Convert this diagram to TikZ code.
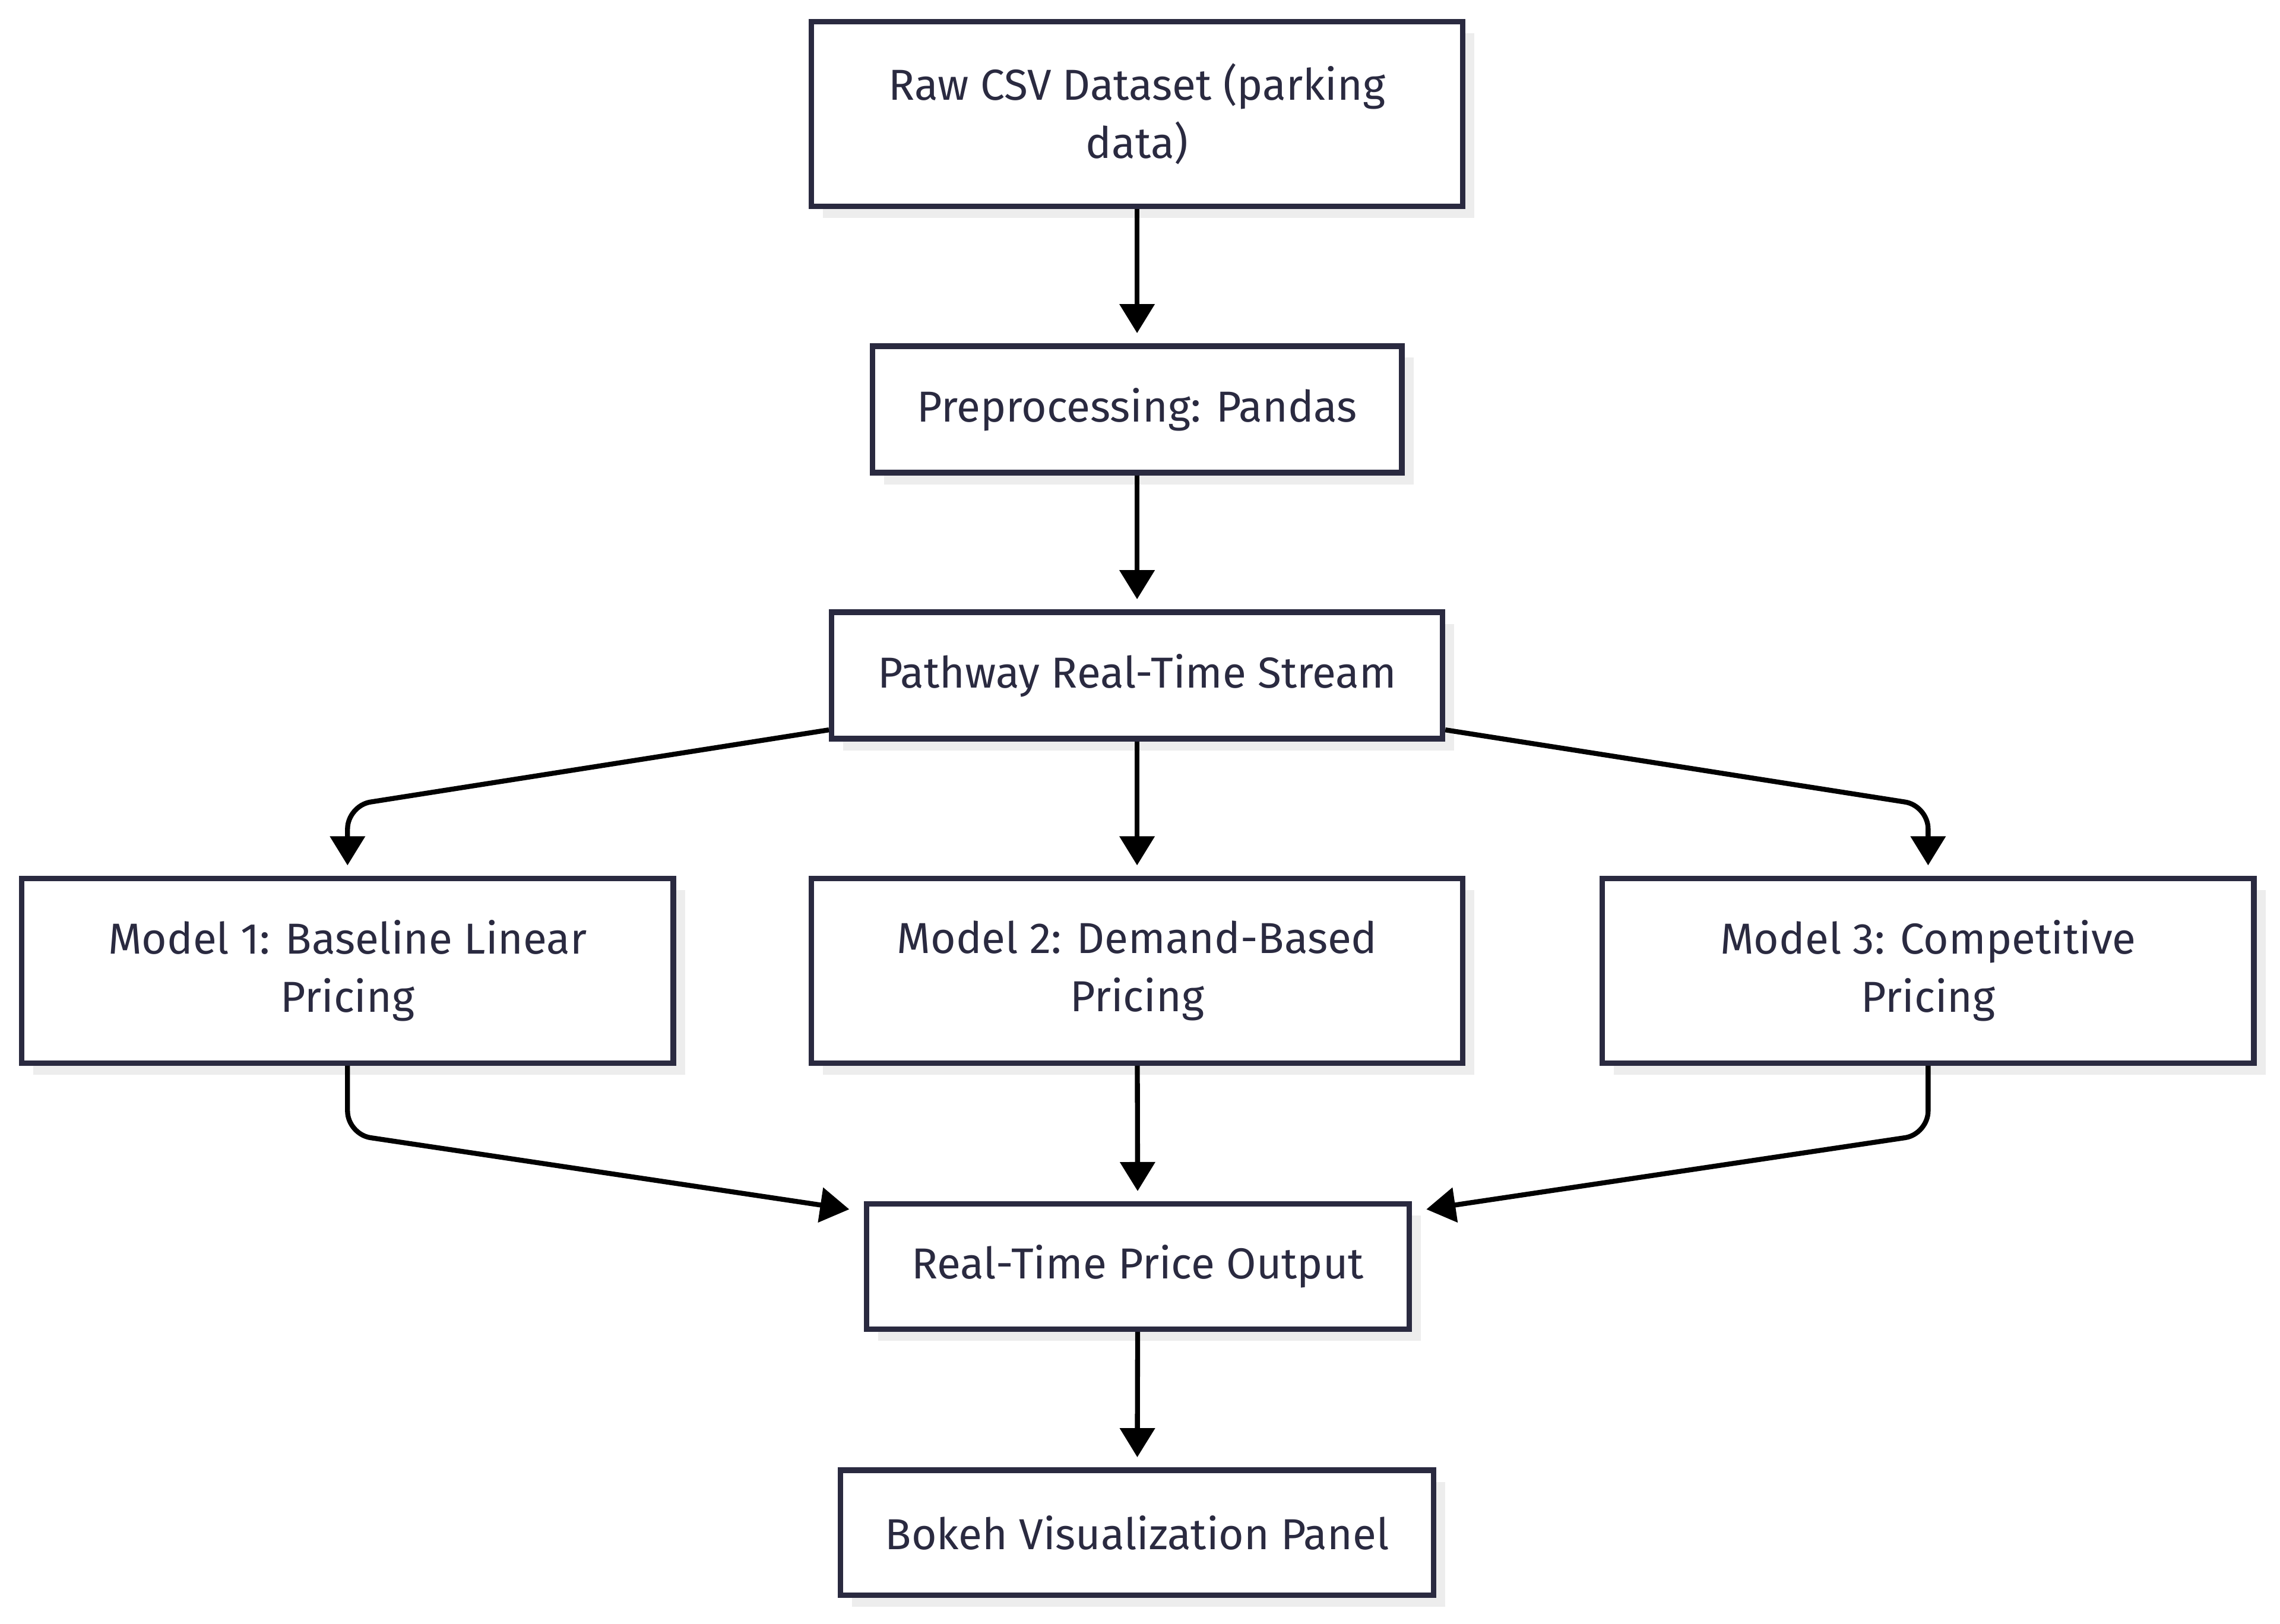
\documentclass[tikz,border=0pt]{standalone}
\usepackage{fontspec}
\setmainfont{Fira Sans}
\usetikzlibrary{arrows.meta,shadows}
\definecolor{ink}{HTML}{2A2A40}
\tikzset{box/.style={draw=ink,line width=0.095cm,fill=white,text=ink,align=center,
    font=\fontsize{21.2}{28.5}\selectfont,inner sep=0pt,
    drop shadow={shadow xshift=0.2cm,shadow yshift=-0.2cm,fill=black!7,opacity=1}},
  link/.style={line width=0.085cm,black,-{Triangle[length=0.5cm,width=0.59cm]},shorten >=0.175cm},
  elbow/.style={link,rounded corners=0.4cm}}

\begin{document}
\begin{tikzpicture}[x=0.025cm,y=-0.025cm]
        \useasboundingbox (0,0) rectangle (1568,1116.4);
        \node[box,minimum width=11.2cm,minimum height=3.175cm] (raw) at (782,78.5) {Raw CSV Dataset (parking\\data)};
        \node[box,minimum width=9.1cm,minimum height=2.175cm] (pre) at (782,281.5) {Preprocessing: Pandas};
        \node[box,minimum width=10.5cm,minimum height=2.175cm] (path) at (782,464.5) {Pathway Real-Time Stream};
        \node[box,minimum width=11.2cm,minimum height=3.175cm] (m1) at (239,667.5) {Model 1: Baseline Linear\\Pricing};
        \node[box,minimum width=11.2cm,minimum height=3.175cm] (m2) at (782,667.5) {Model 2: Demand-Based\\Pricing};
        \node[box,minimum width=11.2cm,minimum height=3.175cm] (m3) at (1326,667.5) {Model 3: Competitive\\Pricing};
        \node[box,minimum width=9.33cm,minimum height=2.15cm] (out) at (782.5,871) {Real-Time Price Output};
        \node[box,minimum width=10.2cm,minimum height=2.15cm] (bokeh) at (782,1054) {Bokeh Visualization Panel};
        \draw[link] (raw) -- (pre);
        \draw[link] (pre) -- (path);
        \draw[link] (path) -- (m2);
        \draw[elbow] ([yshift=0.2cm]path.south west) -- (239,554) -- (m1.north);
        \draw[elbow] ([yshift=0.2cm]path.south east) -- (1326,554) -- (m3.north);
        \draw[link] (m2) -- (out);
        \draw[elbow,shorten >=0.25cm] (m1.south) -- (239,780) -- ([yshift=-0.175cm]out.north west);
        \draw[elbow,shorten >=0.25cm] (m3.south) -- (1326,780) -- ([yshift=-0.175cm]out.north east);
        \draw[link] (out) -- (bokeh);
    \end{tikzpicture}
\end{document}
